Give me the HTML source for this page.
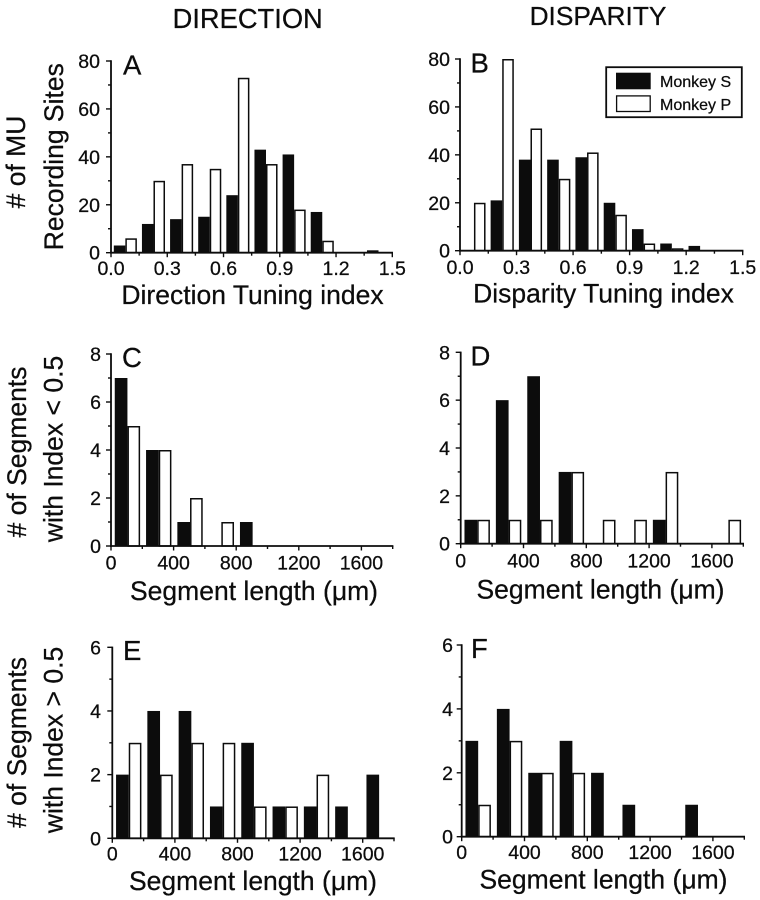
<!DOCTYPE html>
<html lang="en">
<head>
<meta charset="utf-8">
<title>Direction and disparity tuning histograms</title>
<style>
html,body{margin:0;padding:0;background:#fff;width:760px;height:900px;overflow:hidden}
svg{display:block}
text{font-family:"Liberation Sans",Arial,sans-serif;fill:#0c0c0c;stroke:#0c0c0c;stroke-width:0.25px}
</style>
</head>
<body>
<svg id="figure" xmlns="http://www.w3.org/2000/svg" width="760" height="900" viewBox="0 0 760 900">
  <text x="247.7" y="28" font-size="27.3" text-anchor="middle">DIRECTION</text>
  <text x="598" y="25" font-size="26.3" text-anchor="middle">DISPARITY</text>

  <text transform="translate(25 162) rotate(-90)" font-size="26.5" text-anchor="middle"># of MU</text>
  <text transform="translate(63 156.7) rotate(-90)" font-size="26.5" text-anchor="middle">Recording Sites</text>
  <text transform="translate(26 452) rotate(-90)" font-size="26.5" text-anchor="middle"># of Segments</text>
  <text transform="translate(62.7 449) rotate(-90)" font-size="26.5" text-anchor="middle">with Index &lt; 0.5</text>
  <text transform="translate(26 742.5) rotate(-90)" font-size="26.5" text-anchor="middle"># of Segments</text>
  <text transform="translate(62.7 740) rotate(-90)" font-size="26.5" text-anchor="middle">with Index &gt; 0.5</text>

  <text x="252.5" y="304" font-size="26.5" text-anchor="middle">Direction Tuning index</text>
  <text x="603.5" y="302.7" font-size="26.5" text-anchor="middle">Disparity Tuning index</text>
  <text x="254" y="600" font-size="26.5" text-anchor="middle">Segment length (μm)</text>
  <text x="600.5" y="598.3" font-size="26.5" text-anchor="middle">Segment length (μm)</text>
  <text x="253" y="890" font-size="26.5" text-anchor="middle">Segment length (μm)</text>
  <text x="603.5" y="888.3" font-size="26.5" text-anchor="middle">Segment length (μm)</text>

  <text x="123" y="74.7" font-size="27.5">A</text>
  <text x="470.5" y="72.7" font-size="27.5">B</text>
  <text x="122" y="367" font-size="27.5">C</text>
  <text x="470.5" y="365.7" font-size="27.5">D</text>
  <text x="123" y="660" font-size="27.5">E</text>
  <text x="471" y="658" font-size="27.5">F</text>

  <g id="panels"></g>

  <g>
    <rect x="606.2" y="67.2" width="135.6" height="50" fill="#fff" stroke="#0c0c0c" stroke-width="1.8"/>
    <rect x="616" y="72.7" width="34.7" height="16.6" fill="#0c0c0c"/>
    <text x="660" y="87" font-size="16">Monkey S</text>
    <rect x="616.6" y="95.9" width="33.6" height="15.6" fill="#fff" stroke="#0c0c0c" stroke-width="1.3"/>
    <text x="660" y="110" font-size="16">Monkey P</text>
  </g>
</svg>

<script>
// Categories: left edge of each histogram bin
const indexBins = [0, 0.15, 0.3, 0.45, 0.6, 0.75, 0.9, 1.05, 1.2, 1.35];
const lengthBins = [0, 200, 400, 600, 800, 1000, 1200, 1400, 1600];

// Tick labels
const indexTicks = ["0.0", "0.3", "0.6", "0.9", "1.2", "1.5"];
const lengthTicks = ["0", "400", "800", "1200", "1600"];
const countTicks80 = ["0", "20", "40", "60", "80"];
const countTicks8 = ["0", "2", "4", "6", "8"];
const countTicks6 = ["0", "2", "4", "6"];

// Series values: Monkey S (black) and Monkey P (white)
const panelASeriesS = [3, 12, 14, 15, 24, 43, 41, 17, 0, 1];
const panelASeriesP = [6, 30, 37, 35, 73, 37, 18, 5, 0, 0];
const panelBSeriesS = [0, 21, 38, 38, 39, 20, 9, 3, 2, 0];
const panelBSeriesP = [20, 80, 51, 30, 41, 15, 3, 1, 0, 0];
const panelCSeriesS = [7, 4, 1, 0, 1, 0, 0, 0, 0];
const panelCSeriesP = [5, 4, 2, 1, 0, 0, 0, 0, 0];
const panelDSeriesS = [1, 6, 7, 3, 0, 0, 1, 0, 0];
const panelDSeriesP = [1, 1, 1, 3, 1, 1, 3, 0, 1];
const panelESeriesS = [2, 4, 4, 1, 3, 1, 1, 1, 2];
const panelESeriesP = [3, 2, 3, 3, 1, 1, 2, 0, 0];
const panelFSeriesS = [3, 4, 2, 3, 2, 1, 0, 1, 0];
const panelFSeriesP = [1, 3, 2, 2, 0, 0, 0, 0, 0];

const SVG_NS = "http://www.w3.org/2000/svg";
const INK = "#0c0c0c";
const root = document.getElementById("panels");

function makeLine(parent, name, x1, y1, x2, y2, width) {
  const el = document.createElementNS(SVG_NS, "line");
  el.setAttribute("x1", x1);
  el.setAttribute("y1", y1);
  el.setAttribute("x2", x2);
  el.setAttribute("y2", y2);
  el.setAttribute("stroke", INK);
  el.setAttribute("stroke-width", width);
  
  
  parent.appendChild(el);
}

function makeLabel(parent, name, x, y, anchor, content) {
  const el = document.createElementNS(SVG_NS, "text");
  el.setAttribute("x", x);
  el.setAttribute("y", y);
  el.setAttribute("font-size", "19.5");
  el.setAttribute("text-anchor", anchor);
  el.textContent = content;
  
  
  parent.appendChild(el);
}

function makeBar(parent, name, left, right, top, bottom, fill) {
  const inset = fill === "#fff" ? 0.75 : 0;
  const el = document.createElementNS(SVG_NS, "rect");
  el.setAttribute("x", left + inset);
  el.setAttribute("y", top + inset);
  el.setAttribute("width", Math.max(0, right - left - inset * 2));
  el.setAttribute("height", Math.max(0, bottom - top - inset));
  el.setAttribute("fill", fill);
  if (inset) {
    el.setAttribute("stroke", INK);
    el.setAttribute("stroke-width", "1.5");
  }
  
  
  parent.appendChild(el);
}

function drawPanel(p) {
  const g = document.createElementNS(SVG_NS, "g");
  
  
  root.appendChild(g);

  const xScale = v => p.left + (v - p.xMin) / (p.xMax - p.xMin) * (p.right - p.left);
  const yScale = v => p.bottom - v / p.yMax * (p.bottom - p.top);

  // Bars
  p.bins.forEach((bin, i) => {
    const s0 = xScale(bin + p.barOffset);
    const s1 = xScale(bin + p.barOffset + p.barWidth);
    const p1 = xScale(bin + p.barOffset + p.barWidth * 2);
    makeBar(g, 'panel-' + p.id + '-monkey-p-bar-' + i, s1, p1, yScale(p.seriesP[i]), p.bottom, "#fff");
    makeBar(g, 'panel-' + p.id + '-monkey-s-bar-' + i, s0, s1, yScale(p.seriesS[i]), p.bottom, INK);
  });

  // Axes
  makeLine(g, 'panel-' + p.id + '-x-axis', p.left - 1, p.bottom, p.right + 0.7, p.bottom, 1.8);
  makeLine(g, 'panel-' + p.id + '-y-axis', p.left, p.top - 0.7, p.left, p.bottom + 0.7, 1.8);

  // X ticks and labels
  const xStep = (p.xMax - p.xMin) / p.xMinorCount;
  for (let i = 0; i <= p.xMinorCount; i++) {
    const major = i % 2 === 0;
    const tx = xScale(p.xMin + xStep * i);
    makeLine(g, 'panel-' + p.id + '-x-tick-' + i, tx, p.bottom, tx, p.bottom + (major ? 4.5 : 3), 1.4);
  }
  p.xLabels.forEach((label, i) => {
    makeLabel(g, 'panel-' + p.id + '-x-label-' + label, xScale(Number(label)), p.xLabelY, "middle", label);
  });

  // Y ticks and labels
  const yLabelStep = p.yMax / (p.yLabels.length - 1);
  for (let i = 0; i <= (p.yLabels.length - 1) * 2; i++) {
    const major = i % 2 === 0;
    const ty = yScale(yLabelStep * i / 2);
    makeLine(g, 'panel-' + p.id + '-y-tick-' + i, p.left, ty, p.left - (major ? 5 : 3), ty, 1.4);
  }
  p.yLabels.forEach(label => {
    makeLabel(g, 'panel-' + p.id + '-y-label-' + label, p.yLabelX, yScale(Number(label)) + 7, "end", label);
  });
}

drawPanel({ id: "a", bins: indexBins, seriesS: panelASeriesS, seriesP: panelASeriesP, xLabels: indexTicks, yLabels: countTicks80,
  left: 111, right: 392.3, top: 61, bottom: 252.7, xMin: 0, xMax: 1.5, yMax: 80, barOffset: 0.015, barWidth: 0.0615, xMinorCount: 10, xLabelY: 275, yLabelX: 100 });
drawPanel({ id: "b", bins: indexBins, seriesS: panelBSeriesS, seriesP: panelBSeriesP, xLabels: indexTicks, yLabels: countTicks80,
  left: 460, right: 742.7, top: 59, bottom: 250.7, xMin: 0, xMax: 1.5, yMax: 80, barOffset: 0.0125, barWidth: 0.0615, xMinorCount: 10, xLabelY: 274, yLabelX: 450 });
drawPanel({ id: "c", bins: lengthBins, seriesS: panelCSeriesS, seriesP: panelCSeriesP, xLabels: lengthTicks, yLabels: countTicks8,
  left: 111, right: 392.7, top: 354, bottom: 546, xMin: 0, xMax: 1800, yMax: 8, barOffset: 24, barWidth: 81, xMinorCount: 9, xLabelY: 569.3, yLabelX: 101 });
drawPanel({ id: "d", bins: lengthBins, seriesS: panelDSeriesS, seriesP: panelDSeriesP, xLabels: lengthTicks, yLabels: countTicks8,
  left: 460.7, right: 743.3, top: 352.3, bottom: 543.7, xMin: 0, xMax: 1800, yMax: 8, barOffset: 24, barWidth: 81, xMinorCount: 9, xLabelY: 567.7, yLabelX: 450 });
drawPanel({ id: "e", bins: lengthBins, seriesS: panelESeriesS, seriesP: panelESeriesP, xLabels: lengthTicks, yLabels: countTicks6,
  left: 112.3, right: 394, top: 647.3, bottom: 838.3, xMin: 0, xMax: 1800, yMax: 6, barOffset: 24, barWidth: 81, xMinorCount: 9, xLabelY: 860.7, yLabelX: 101 });
drawPanel({ id: "f", bins: lengthBins, seriesS: panelFSeriesS, seriesP: panelFSeriesP, xLabels: lengthTicks, yLabels: countTicks6,
  left: 461.7, right: 744.3, top: 645, bottom: 836.7, xMin: 0, xMax: 1800, yMax: 6, barOffset: 24, barWidth: 81, xMinorCount: 9, xLabelY: 859, yLabelX: 453 });
</script>
</body>
</html>
